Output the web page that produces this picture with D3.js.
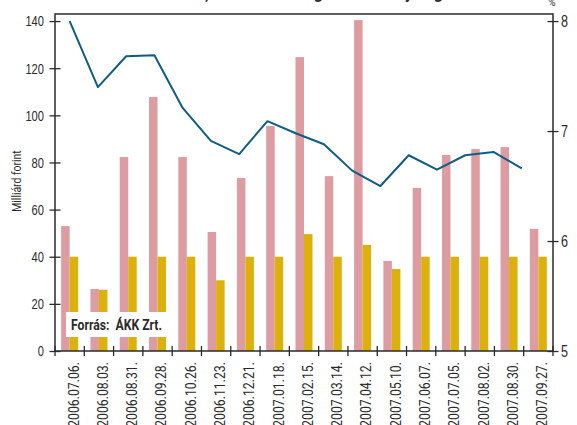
<!DOCTYPE html>
<html>
<head>
<meta charset="utf-8">
<script src="https://cdn.jsdelivr.net/npm/d3@7"></script>
<style>
  body { margin: 0; background: #fff; }
  svg { display: block; font-family: Roboto, "Liberation Sans", sans-serif; }
</style>
</head>
<body>
<script>
// auction dates
const dates = ['2006.07.06.', '2006.08.03.', '2006.08.31.', '2006.09.28.', '2006.10.26.', '2006.11.23.',
  '2006.12.21.', '2007.01.18.', '2007.02.15.', '2007.03.14.', '2007.04.12.', '2007.05.10.',
  '2007.06.07.', '2007.07.05.', '2007.08.02.', '2007.08.30.', '2007.09.27.'];
// bids (Mrd Ft)
const bids = [53, 26.3, 82.3, 107.8, 82.3, 50.5, 73.4, 95.5, 124.7, 74.2, 140.4, 38.2, 69.2, 83.2, 85.7, 86.5, 51.8];
// accepted (Mrd Ft)
const accepted = [40, 26, 40, 40, 40, 30, 40, 40, 49.6, 40, 45, 34.8, 40, 40, 40, 40, 40];
// average yield (%)
const yieldPct = [8.0, 7.40, 7.68, 7.69, 7.21, 6.91, 6.79, 7.09, 6.98, 6.88, 6.64, 6.50, 6.78, 6.65, 6.78, 6.81, 6.66];
const leftTicks = [0, 20, 40, 60, 80, 100, 120, 140];
const rightTicks = [5, 6, 7, 8];

const width = 577, height = 425;
const margin = { top: 14, right: 24, bottom: 74, left: 55 };
const ink = '#2b2b2b';

// squeeze text to look like the condensed face of the original
const narrow = (sel, perChar) => sel
  .attr('textLength', function () { return this.textContent.length * perChar; })
  .attr('lengthAdjust', 'spacingAndGlyphs');

const svg = d3.select('body').append('svg')
  .attr('width', width)
  .attr('height', height);

const x = d3.scaleBand()
  .domain(dates)
  .range([margin.left, width - margin.right]);

// line points sit on their own, slightly tighter spacing
const xl = d3.scalePoint()
  .domain(dates)
  .range([x(dates[0]) + x.bandwidth() / 2, x(dates[dates.length - 1]) - 2]);

const y = d3.scaleLinear()
  .domain([0, 143])
  .range([height - margin.bottom, margin.top]);

const y2 = d3.scaleLinear()
  .domain([5, 8])
  .range([y(0), y(140)]);

const barW = 8.5;

// title (mostly cut off at the top of the picture)
svg.append('text')
  .attr('x', 443)
  .attr('y', -1)
  .attr('text-anchor', 'end')
  .attr('font-weight', 'bold')
  .attr('font-size', 16)
  .attr('fill', ink)
  .text('Kereslet, hozam és elfogadott mennyiség');

const g = svg.append('g')
  .selectAll('g')
  .data(dates)
  .join('g')
  .attr('transform', d => `translate(${x(d) + x.bandwidth() / 2},0)`);

g.append('rect')
  .attr('fill', '#dd9ca1')
  .attr('x', -barW)
  .attr('width', barW)
  .attr('y', (d, i) => y(bids[i]))
  .attr('height', (d, i) => y(0) - y(bids[i]));

g.append('rect')
  .attr('fill', '#dcb10b')
  .attr('x', 0)
  .attr('width', barW)
  .attr('y', (d, i) => y(accepted[i]))
  .attr('height', (d, i) => y(0) - y(accepted[i]));

svg.append('path')
  .datum(dates)
  .attr('fill', 'none')
  .attr('stroke', '#0f5d85')
  .attr('stroke-width', 2)
  .attr('stroke-linejoin', 'round')
  .attr('d', d3.line()
    .x(d => xl(d))
    .y((d, i) => y2(yieldPct[i])));

// frame
svg.append('path')
  .attr('fill', 'none')
  .attr('stroke', ink)
  .attr('stroke-width', 1.5)
  .attr('d', `M${margin.left},${y(0)}V${margin.top}H${width - margin.right}V${y(0)}`);

svg.append('g')
  .attr('transform', `translate(${margin.left},0)`)
  .call(d3.axisLeft(y).tickValues(leftTicks).tickSize(0).tickPadding(11))
  .call(g => g.select('.domain').remove())
  .call(g => g.selectAll('.tick line').attr('x1', -5.5).attr('x2', 5.5).attr('stroke', ink).attr('stroke-width', 1.3))
  .call(g => g.selectAll('text').attr('font-size', 15).attr('fill', ink).attr('font-family', null).call(narrow, 6.2));

svg.append('g')
  .attr('transform', `translate(${width - margin.right},0)`)
  .call(d3.axisRight(y2).tickValues(rightTicks).tickFormat(d3.format('d')).tickSize(0).tickPadding(8))
  .call(g => g.select('.domain').remove())
  .call(g => g.selectAll('.tick line').attr('x1', -5.5).attr('x2', 5.5).attr('stroke', ink).attr('stroke-width', 1.3))
  .call(g => g.selectAll('text').attr('font-size', 16).attr('fill', ink).attr('font-family', null).call(narrow, 7));

// x axis: ticks on band boundaries
const xAxis = svg.append('g')
  .attr('transform', `translate(0,${y(0)})`);

xAxis.append('line')
  .attr('x1', margin.left).attr('x2', width - margin.right)
  .attr('stroke', ink).attr('stroke-width', 1.5);

xAxis.selectAll('.bt')
  .data(dates.concat(['end']))
  .join('line')
  .attr('class', 'bt')
  .attr('x1', d => (d === 'end' ? x.range()[1] : x(d)))
  .attr('x2', d => (d === 'end' ? x.range()[1] : x(d)))
  .attr('y1', -5).attr('y2', 5)
  .attr('stroke', ink).attr('stroke-width', 1.3);

xAxis.selectAll('.lbl')
  .data(dates)
  .join('text')
  .attr('class', 'lbl')
  .attr('transform', d => `translate(${x(d) + x.bandwidth() / 2 + 4},11) rotate(-90)`)
  .attr('text-anchor', 'end')
  .attr('dy', '0.35em')
  .attr('font-size', 14)
  .attr('fill', ink)
  .text(d => d)
  .call(narrow, 5.9);

// axis titles
svg.append('text')
  .attr('transform', `translate(21,181) rotate(-90)`)
  .attr('text-anchor', 'middle')
  .attr('font-size', 12.5)
  .attr('fill', ink)
  .text('Milliárd forint')
  .call(narrow, 4.1);

svg.append('text')
  .attr('x', 552)
  .attr('y', 6)
  .attr('text-anchor', 'middle')
  .attr('font-size', 10)
  .attr('fill', ink)
  .text('%');

// source box
svg.append('rect')
  .attr('x', 66).attr('y', 312)
  .attr('width', 101).attr('height', 25)
  .attr('fill', '#fff');

svg.append('text')
  .attr('x', 71).attr('y', 330)
  .attr('font-size', 15)
  .attr('font-weight', 'bold')
  .attr('fill', ink)
  .attr('xml:space', 'preserve')
  .text('Forrás:  ÁKK Zrt.')
  .attr('textLength', 91)
  .attr('lengthAdjust', 'spacingAndGlyphs');
</script>
</body>
</html>
